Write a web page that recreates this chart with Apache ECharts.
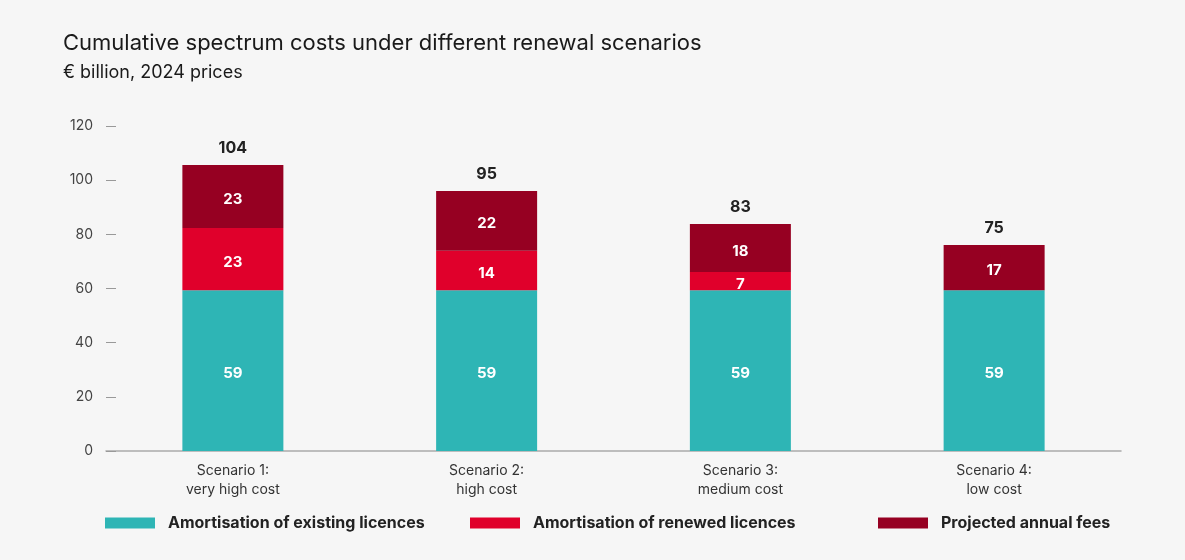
<!DOCTYPE html>
<html><head><meta charset="utf-8">
<script src="https://cdn.jsdelivr.net/npm/echarts@6/dist/echarts.min.js"></script>
<style>html,body{margin:0;padding:0;background:#f6f6f6}#c{width:1185px;height:560px}</style>
</head><body><div id="c"></div>
<script>
const categories = ['Scenario 1:\nvery high cost', 'Scenario 2:\nhigh cost', 'Scenario 3:\nmedium cost', 'Scenario 4:\nlow cost'];
const existing = [59.4, 59.4, 59.4, 59.4];
const renewed = [22.9, 14.5, 6.7, 0];
const annualFees = [23.3, 22.1, 17.7, 16.7];
const existingLabels = [59, 59, 59, 59];
const renewedLabels = [23, 14, 7, null];
const feesLabels = [23, 22, 18, 17];
const totals = [104, 95, 83, 75];
const yTicks = [0, 20, 40, 60, 80, 100, 120];

const seriesNames = ['Amortisation of existing licences', 'Amortisation of renewed licences', 'Projected annual fees'];
const colors = ['#2eb5b5', '#e0002b', '#960022'];

function segLabel(arr) {
  return {
    show: true, position: 'inside', color: '#fff', fontWeight: 'bold', fontSize: 15,
    fontFamily: 'Inter', offset: [0, 3],
    formatter: p => arr[p.dataIndex] == null ? '' : String(arr[p.dataIndex])
  };
}

const chart = echarts.init(document.getElementById('c'));
const legendBase = {
  top: 510, itemWidth: 50, itemHeight: 11, icon: 'rect',
  textStyle: { fontSize: 16, fontWeight: 'bold', color: '#222', fontFamily: 'Inter', padding: [0, 0, 0, 8] }
};
chart.setOption({
  backgroundColor: '#f6f6f6',
  animation: false,
  title: [
    { text: 'Cumulative spectrum costs under different renewal scenarios', left: 58, top: 27,
      textStyle: { fontSize: 22, fontWeight: 'normal', color: '#1a1a1a', fontFamily: 'Inter' } },
    { text: '€ billion, 2024 prices', left: 58, top: 59,
      textStyle: { fontSize: 18, fontWeight: 'normal', color: '#1a1a1a', fontFamily: 'Inter' } }
  ],
  legend: [
    Object.assign({ left: 100, data: [seriesNames[0]] }, legendBase),
    Object.assign({ left: 465, data: [seriesNames[1]] }, legendBase),
    Object.assign({ left: 873, data: [seriesNames[2]] }, legendBase)
  ],
  grid: { left: 106, right: 64, top: 126, bottom: 109 },
  xAxis: {
    type: 'category', data: categories,
    axisLine: { lineStyle: { color: '#aaa', width: 1.5 } },
    axisTick: { show: false },
    axisLabel: { fontSize: 14, color: '#333', lineHeight: 19, margin: 10, fontFamily: 'Inter' }
  },
  yAxis: {
    type: 'value', min: 0, max: 120, interval: 20,
    axisLine: { show: false },
    splitLine: { show: false },
    axisTick: { show: true, inside: true, length: 10, lineStyle: { color: '#999' } },
    axisLabel: { fontSize: 14, color: '#444', margin: 13, fontFamily: 'Inter',
      formatter: v => yTicks.includes(v) ? String(v) : '' }
  },
  series: [
    { name: seriesNames[0], type: 'bar', stack: 't', data: existing, barWidth: 101,
      itemStyle: { color: colors[0] }, label: segLabel(existingLabels) },
    { name: seriesNames[1], type: 'bar', stack: 't', data: renewed, barWidth: 101,
      itemStyle: { color: colors[1] }, label: segLabel(renewedLabels) },
    { name: seriesNames[2], type: 'bar', stack: 't', data: annualFees, barWidth: 101,
      itemStyle: { color: colors[2] }, label: segLabel(feesLabels) },
    { name: 'total', type: 'bar', stack: 't', data: [0, 0, 0, 0], barWidth: 101,
      itemStyle: { color: 'transparent' }, legendHoverLink: false,
      label: { show: true, position: 'top', distance: 9, color: '#222', fontWeight: 'bold',
        fontSize: 16, fontFamily: 'Inter', formatter: p => String(totals[p.dataIndex]) } }
  ]
});
</script>
</body></html>
